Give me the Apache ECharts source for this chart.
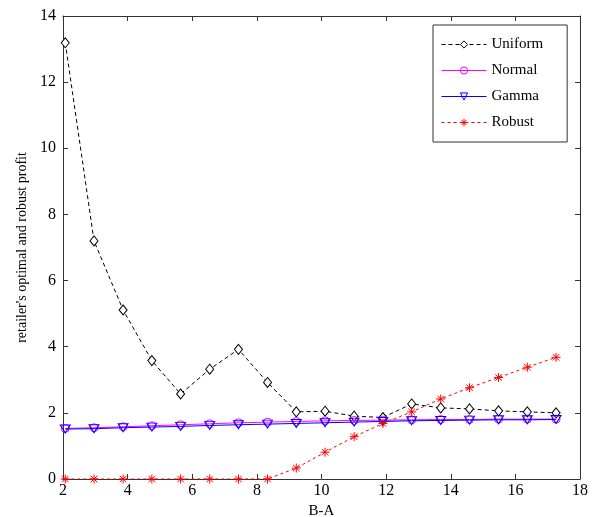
<!DOCTYPE html>
<html><head><meta charset="utf-8">
<script src="https://cdn.jsdelivr.net/npm/echarts@6/dist/echarts.min.js"></script>
<style>html,body{margin:0;padding:0;background:#fff}#c{width:592px;height:517px}</style>
</head><body><div id="c"></div>
<script>
const xValues = [2.07, 2.96, 3.86, 4.75, 5.64, 6.54, 7.43, 8.33, 9.22, 10.11, 11.01, 11.90, 12.79, 13.69, 14.58, 15.48, 16.37, 17.26];
const uniform = [13.19, 7.2, 5.11, 3.58, 2.57, 3.32, 3.92, 2.92, 2.03, 2.05, 1.90, 1.86, 2.27, 2.15, 2.12, 2.06, 2.03, 2.0];
const normal = [1.53, 1.55, 1.58, 1.61, 1.64, 1.67, 1.70, 1.72, 1.74, 1.76, 1.77, 1.78, 1.79, 1.80, 1.80, 1.81, 1.81, 1.81];
const gamma = [1.51, 1.52, 1.55, 1.57, 1.59, 1.62, 1.64, 1.66, 1.68, 1.70, 1.72, 1.74, 1.76, 1.77, 1.78, 1.79, 1.79, 1.80];
const robust = [0, 0, 0, 0, 0, 0, 0, 0, 0.33, 0.81, 1.28, 1.68, 2.03, 2.42, 2.76, 3.07, 3.38, 3.68];
const seriesNames = ['Uniform', 'Normal', 'Gamma', 'Robust'];
const xTicks = {min: 2, max: 18, interval: 2};
const yTicks = {min: 0, max: 14, interval: 2};
const xLabel = 'B-A';
const yLabel = "retailer's optimal and robust profit";

const pair = arr => arr.map((v, i) => [xValues[i], v]);
const font = 'Liberation Serif';
const axisLine = {show: true, onZero: false, lineStyle: {color: '#333', width: 1}};
const tick = {show: true, inside: true, length: 5, lineStyle: {color: '#333'}};
const asterisk = 'path://M0,-5L0,5M-5,0L5,0M-3.6,-3.6L3.6,3.6M-3.6,3.6L3.6,-3.6';

const styles = [
  {color: '#000', type: [4, 3], fill: '#fff'},
  {color: '#ff00ff', type: 'solid', fill: 'rgba(255,255,255,0)'},
  {color: '#0000ff', type: 'solid', fill: 'rgba(255,255,255,0)'},
  {color: '#ff0000', type: [3, 3], fill: '#ff0000'}
];
const symbols = [
  {symbol: 'diamond', symbolSize: [8, 10]},
  {symbol: 'circle', symbolSize: 8},
  {symbol: 'triangle', symbolSize: [10, 8], symbolRotate: 180},
  {symbol: asterisk, symbolSize: 9}
];
const seriesData = [uniform, normal, gamma, robust];

const chart = echarts.init(document.getElementById('c'), null, {renderer: 'canvas'});
chart.setOption({
  animation: false,
  backgroundColor: '#fff',
  grid: {left: 63, right: 12, top: 16, bottom: 38, containLabel: false, outerBoundsMode: 'none'},
  legend: {
    orient: 'vertical', left: 433, top: 25,
    padding: [12, 24, 12, 8], itemGap: 11, itemWidth: 45, itemHeight: 9,
    borderColor: '#333', borderWidth: 1, backgroundColor: '#fff',
    textStyle: {fontFamily: font, fontSize: 15, color: '#000'},
    data: seriesNames.map((n, i) => ({
      name: n,
      lineStyle: {color: styles[i].color, width: 1, type: styles[i].type},
      itemStyle: {color: styles[i].fill, borderColor: styles[i].color, borderWidth: 1}
    }))
  },
  xAxis: [
    {type: 'value', min: xTicks.min, max: xTicks.max, interval: xTicks.interval, position: 'bottom',
     name: xLabel, nameLocation: 'middle', nameGap: 24, nameTextStyle: {fontFamily: font, fontSize: 15, color: '#000'},
     axisLine, axisTick: tick, splitLine: {show: false},
     axisLabel: {fontFamily: font, fontSize: 16, color: '#000', margin: 4}},
    {type: 'value', min: xTicks.min, max: xTicks.max, interval: xTicks.interval, position: 'top',
     axisLine, axisTick: tick, splitLine: {show: false}, axisLabel: {show: false}}
  ],
  yAxis: [
    {type: 'value', min: yTicks.min, max: yTicks.max, interval: yTicks.interval, position: 'left',
     name: yLabel, nameLocation: 'middle', nameGap: 34, nameTextStyle: {fontFamily: font, fontSize: 14, color: '#000'},
     axisLine, axisTick: tick, splitLine: {show: false},
     axisLabel: {fontFamily: font, fontSize: 16, color: '#000', margin: 7}},
    {type: 'value', min: yTicks.min, max: yTicks.max, interval: yTicks.interval, position: 'right',
     axisLine, axisTick: tick, splitLine: {show: false}, axisLabel: {show: false}}
  ],
  series: seriesNames.map((n, i) => Object.assign({
    name: n, type: 'line', data: pair(seriesData[i]), z: 3 + i,
    lineStyle: {color: styles[i].color, width: 1, type: styles[i].type},
    itemStyle: {color: styles[i].fill, borderColor: styles[i].color, borderWidth: 1}
  }, symbols[i]))
});
</script></body></html>
